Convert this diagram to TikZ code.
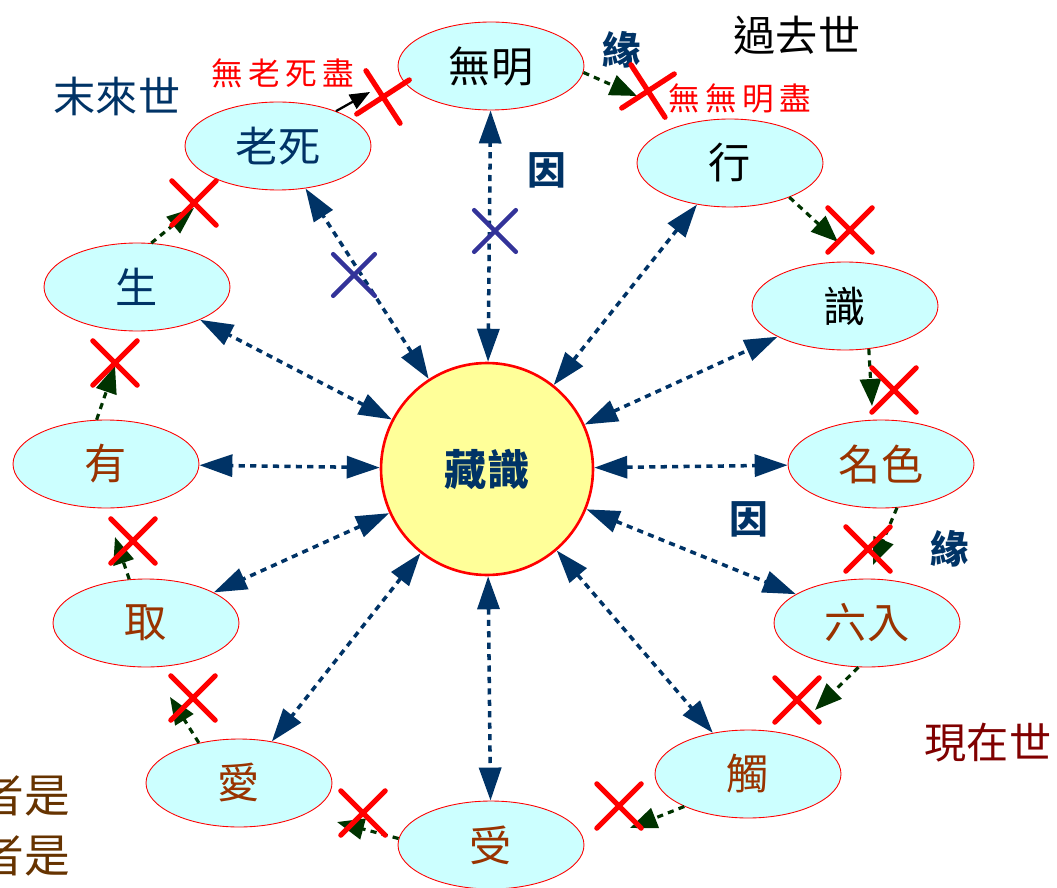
\documentclass[tikz,border=0pt]{standalone}
\usepackage{fontspec}
\setmainfont{Noto Sans CJK TC}
\usetikzlibrary{arrows.meta,shapes.geometric,shapes.misc}
\definecolor{myblue}{HTML}{003366}
\definecolor{mybrown}{HTML}{993300}
\definecolor{mygreen}{HTML}{003300}
\definecolor{mycyan}{HTML}{CCFFFF}
\definecolor{myyellow}{HTML}{FFFF99}
\definecolor{mypurple}{HTML}{333399}
\definecolor{mydarkred}{HTML}{800000}
\definecolor{mytan}{HTML}{663300}
\begin{document}
\begin{tikzpicture}
			[x=0.02cm,y=-0.02cm,
			link/.style={ellipse,draw=red,line width=0.5pt,fill=mycyan,minimum width=3.72cm,minimum height=1.76cm,inner sep=0pt,font=\fontsize{24}{24}\selectfont},
			hub/.style={circle,draw=red,line width=1.5pt,fill=myyellow,minimum size=4.24cm,inner sep=0pt,text=myblue,font=\fontsize{24}{24}\selectfont\bfseries},
			radial/.style={myblue,line width=2pt,dash pattern=on 3.5pt off 3pt,{Triangle[length=0.66cm,width=0.44cm]}-{Triangle[length=0.66cm,width=0.44cm]}},
			flow/.style={mygreen,line width=1.8pt,dash pattern=on 3.5pt off 3pt,-{Triangle[length=0.54cm,width=0.42cm]}},
			nogo/.style={cross out,draw=red,line width=3pt,line cap=round,minimum size=0.78cm,inner sep=0pt},
			nogopurple/.style={nogo,draw=mypurple,line width=2.6pt,minimum size=0.74cm},
			word/.style={font=\fontsize{24}{24}\selectfont},
			cause/.style={text=myblue,font=\fontsize{22}{22}\selectfont\bfseries},
			vow/.style={text=red,font=\fontsize{18}{18}\selectfont}]
			\useasboundingbox (0,0) rectangle (1057,888);
			
			\node[hub] (0) at (487,469) {藏識};
			\node[link,text=black] (1) at (491,66) {無明};
			\node[link,text=black] (2) at (730,163) {行};
			\node[link,text=black] (3) at (845,306) {識};
			\node[link,text=mybrown] (4) at (881,464) {名色};
			\node[link,text=mybrown] (5) at (867,623) {六入};
			\node[link,text=mybrown] (6) at (748,774) {觸};
			\node[link,text=mybrown] (7) at (491,845) {受};
			\node[link,text=mybrown] (8) at (239,783) {愛};
			\node[link,text=mybrown] (9) at (146,623) {取};
			\node[link,text=mybrown] (10) at (106,464) {有};
			\node[link,text=myblue] (11) at (137,287) {生};
			\node[link,text=myblue] (12) at (278,146) {老死};
			
			% labels
			\node[word] (past) at (797,35) {過去世};
			\node[word,text=myblue] (future) at (117,96) {末來世};
			\node[word,text=mydarkred] (present) at (988,743) {現在世};
			\node[cause] (yuan1) at (622,50) {緣};
			\node[cause] (yin1) at (547,170) {因};
			\node[cause] (yin2) at (749,519) {因};
			\node[cause] (yuan2) at (950,549) {緣};
			\node[vow] (end1) at (283,73) {無\kern3pt 老\kern3pt 死\kern3pt 盡};
			\node[vow] (end2) at (740,98) {無\kern3pt 無\kern3pt 明\kern3pt 盡};
			\node[anchor=east,text=mytan,font=\fontsize{26}{26}\selectfont] (rest1) at (76,795) {者是};
			\node[anchor=east,text=mytan,font=\fontsize{26}{26}\selectfont] (rest2) at (76,855) {者是};
			
			% arrow ends
			\coordinate (t1) at (637,96);
			\coordinate (t2) at (838,242);
			\coordinate (t3) at (872,406);
			\coordinate (t4) at (873,565);
			\coordinate (t5) at (815,710);
			\coordinate (t6) at (630,828);
			\coordinate (t7) at (337,822);
			\coordinate (t8) at (170,697);
			\coordinate (t9) at (115,537);
			\coordinate (t10) at (115,366);
			\coordinate (t11) at (194,208);
			\coordinate (t12) at (370,92);
			
			\foreach \a in {1,...,12}
			\draw[radial] (0) -- (\a);
			
			\foreach \a/\b in {1/-4,2/-30,3/-61,4/-70,5/-101,6/-153,7/176,8/135,9/111,10/102,11/72}
			\draw[flow] (\a.\b) -- (t\a);
			\draw[black,line width=1.3pt,-{Triangle[length=0.4cm,width=0.32cm]}] (12.31) -- (t12);
			
			% crosses
			\node[nogo,rotate=-12] (x1) at (648,91) {};
			\node[nogo] (x2) at (850,230) {};
			\node[nogo] (x3) at (894,390) {};
			\node[nogo] (x4) at (868,549) {};
			\node[nogo] (x5) at (797,700) {};
			\node[nogo] (x6) at (619,806) {};
			\node[nogo] (x7) at (363,813) {};
			\node[nogo] (x8) at (193,698) {};
			\node[nogo] (x9) at (133,541) {};
			\node[nogo] (x10) at (115,363) {};
			\node[nogo] (x11) at (194,203) {};
			\node[nogo,rotate=-12] (x12) at (383,97) {};
			\node[nogopurple] (y1) at (495,231) {};
			\node[nogopurple] (y2) at (354,275) {};
			\end{tikzpicture}
\end{document}
